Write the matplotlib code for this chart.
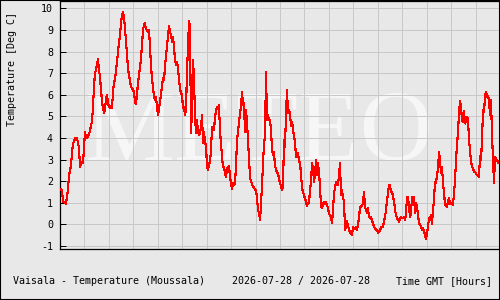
import matplotlib
matplotlib.use("Agg")
import matplotlib.pyplot as plt
import numpy as np
from matplotlib.patches import Rectangle

# Moussala temperature, one reading per sample step, split in six blocks of 3 hours
temp_00_03 = [
    1.62, 1.62, 1.59, 1.05, 1.05, 1.00, 0.94, 1.28, 1.66, 2.24,
    2.51, 2.75, 3.29, 3.75, 3.83, 3.98, 3.90, 3.98, 3.78, 3.52,
    2.67, 2.82, 2.90, 2.82, 3.59, 4.29, 3.98, 3.98, 4.06, 4.21,
    4.29, 4.60, 4.75, 5.45, 6.40, 6.99, 7.17, 7.38, 7.64, 7.14,
    6.83, 6.22, 5.71, 5.37, 5.17, 5.29, 5.83, 5.99, 5.60, 5.45,
    5.40, 5.48, 5.37, 6.14, 6.60, 6.68, 7.14, 7.53, 7.99, 8.41,
    8.79, 9.30, 9.69, 9.83, 9.58, 9.07, 8.45, 7.91, 7.14, 6.99,
    6.60, 6.37, 6.29, 6.22,
]
temp_03_06 = [
    6.14, 5.68, 5.57, 6.06, 6.53, 6.96, 7.22, 7.68, 8.30, 8.99,
    9.23, 9.30, 9.03, 9.00, 8.92, 8.99, 8.22, 7.30, 6.76, 6.34,
    5.91, 5.75, 5.91, 5.45, 5.06, 5.37, 5.68, 5.99, 6.45, 6.76,
    6.68, 7.30, 7.79, 8.22, 8.76, 9.18, 8.92, 8.76, 8.45, 8.69,
    8.22, 7.61, 7.37, 7.53, 7.22, 6.68, 6.29, 6.06, 5.99, 5.37,
    5.45, 5.06, 5.29, 7.14, 8.15, 9.43, 9.15, 4.21, 5.29, 7.61,
    6.68, 5.06, 4.21, 4.83, 4.29, 4.13, 4.21, 4.52, 5.06, 3.75,
    4.29, 3.75, 3.67, 2.67,
]
temp_06_09 = [
    2.51, 2.79, 2.90, 3.44, 4.52, 4.44, 4.37, 4.95, 5.29, 5.41,
    5.37, 5.52, 4.29, 3.75, 3.13, 2.67, 2.67, 2.39, 2.20, 2.54,
    2.67, 2.70, 2.20, 1.90, 1.66, 1.90, 1.82, 1.93, 2.67, 3.90,
    4.29, 4.75, 5.14, 5.45, 6.14, 5.52, 5.60, 4.29, 5.29, 4.70,
    3.90, 3.01, 2.20, 1.97, 1.90, 1.71, 1.74, 1.59, 1.59, 1.20,
    0.66, 0.54, 0.20, 0.89, 1.82, 2.75, 3.75, 4.06, 7.07, 4.83,
    5.06, 4.83, 4.83, 4.40, 3.44, 3.21, 3.36, 2.67, 2.59, 2.36,
    2.36, 2.13, 1.90, 1.77,
]
temp_09_12 = [
    1.59, 1.74, 3.90, 3.59, 5.14, 6.22, 5.14, 5.29, 5.14, 4.55,
    4.75, 4.44, 4.06, 3.83, 3.13, 3.25, 3.29, 2.95, 2.82, 2.36,
    1.66, 1.51, 1.36, 1.20, 1.05, 0.85, 0.97, 1.00, 1.59, 1.93,
    2.82, 2.59, 1.97, 2.28, 2.98, 2.28, 2.82, 2.44, 1.74, 0.82,
    0.74, 0.94, 1.05, 0.94, 1.05, 0.89, 0.74, 0.48, 0.43, 0.33,
    0.05, 0.66, 1.43, 1.71, 1.97, 1.97, 1.82, 2.28, 2.82, 1.36,
    1.59, 1.20, 1.12, -0.26, -0.11, 0.17, -0.11, -0.19, -0.42, -0.42,
    -0.50, -0.14, -0.23, -0.19,
]
temp_12_15 = [
    -0.11, -0.26, 0.05, 0.28, 0.82, 0.82, 0.89, 0.97, 1.51, 0.82,
    0.66, 0.51, 0.74, 0.35, 0.28, 0.35, 0.17, 0.05, -0.11, -0.19,
    -0.23, -0.26, -0.39, -0.34, -0.30, -0.11, -0.11, -0.11, 0.12, 0.35,
    0.66, 1.12, 1.43, 1.82, 1.82, 1.51, 1.51, 1.28, 1.09, 0.66,
    0.43, 0.28, 0.23, 0.12, 0.23, 0.35, 0.28, 0.28, 0.33, 0.20,
    0.51, 1.28, 1.28, 0.82, 0.35, 0.51, 1.28, 1.12, 1.28, 0.51,
    0.97, 0.82, 0.43, 0.05, 0.01, -0.11, -0.26, -0.19, -0.30, -0.50,
    -0.70, -0.42, -0.11, 0.28,
]
temp_15_18 = [
    0.28, 0.43, 0.01, 0.66, 1.16, 1.97, 1.93, 2.28, 2.59, 3.36,
    2.95, 2.36, 2.67, 1.90, 1.51, 0.89, 0.89, 0.82, 1.09, 1.20,
    0.94, 0.97, 0.94, 0.89, 1.43, 2.05, 2.95, 3.67, 4.29, 5.14,
    5.72, 5.45, 4.83, 4.75, 5.26, 4.67, 4.80, 4.98, 4.90, 3.90,
    3.44, 2.90, 2.67, 2.59, 2.44, 2.44, 2.36, 2.28, 2.28, 2.21,
    3.16, 2.98, 3.90, 5.29, 5.21, 5.91, 6.14, 5.91, 5.94, 5.75,
    5.06, 5.75, 4.13, 2.98, 1.90, 3.13, 3.01, 2.98, 2.85, 2.90,
]

SPAN_H = 18          # hours shown on the time axis
N_SLOTS = 440        # samples across the full span
Y_TICKS = list(range(-1, 11))

temp = np.array(temp_00_03 + temp_03_06 + temp_06_09 +
                temp_09_12 + temp_12_15 + temp_15_18)
hours = np.arange(len(temp)) * SPAN_H / N_SLOTS

BG = "#e8e8e8"
GRID = "#c8c8c8"
MONO = "DejaVu Sans Mono"
FS = 7.2

fig = plt.figure(figsize=(5, 3), dpi=100, facecolor=BG)
ax = fig.add_axes([0.12, 0.17, 0.88, 0.8267])
ax.set_facecolor(BG)

# faint watermark behind the grid
ax.text(0.054, 0.355, "METEO", transform=ax.transAxes, fontsize=73,
        family="Liberation Serif", color="#f6f6f6", ha="left", va="baseline",
        zorder=0.2)

ax.plot(hours, temp, color="#ff0000", lw=0.8, antialiased=False, zorder=3)

ax.set_xlim(0, SPAN_H)
ax.set_ylim(-1.14, 10.34)
ax.set_xticks(range(0, SPAN_H + 1))
ax.set_xticklabels([])
ax.set_yticks(Y_TICKS)
ax.set_yticklabels([str(v) for v in Y_TICKS], family=MONO, fontsize=FS)
ax.tick_params(axis="x", length=0)
ax.tick_params(axis="y", direction="in", length=4, width=0.72, pad=5, colors="black")
ax.set_axisbelow(True)
ax.grid(True, color=GRID, lw=0.72, antialiased=False)
for s in ax.spines.values():
    s.set_color("black")
    s.set_linewidth(0.9)

fig.text(0.025, 0.77, "Temperature [Deg C]", rotation=90, family=MONO,
         fontsize=FS, ha="center", va="center")
fig.text(0.026, 0.063, "Vaisala - Temperature (Moussala)", family=MONO,
         fontsize=FS, ha="left", va="center")
fig.text(0.463, 0.063, "2026-07-28 / 2026-07-28", family=MONO,
         fontsize=FS, ha="left", va="center")
fig.text(0.793, 0.063, "Time GMT [Hours]", family=MONO,
         fontsize=FS, ha="left", va="center")

fig.patches.append(Rectangle((0, 0), 1, 1, transform=fig.transFigure,
                             fill=False, ec="black", lw=1.5))

fig.savefig("out.png", dpi=100, facecolor=BG)
